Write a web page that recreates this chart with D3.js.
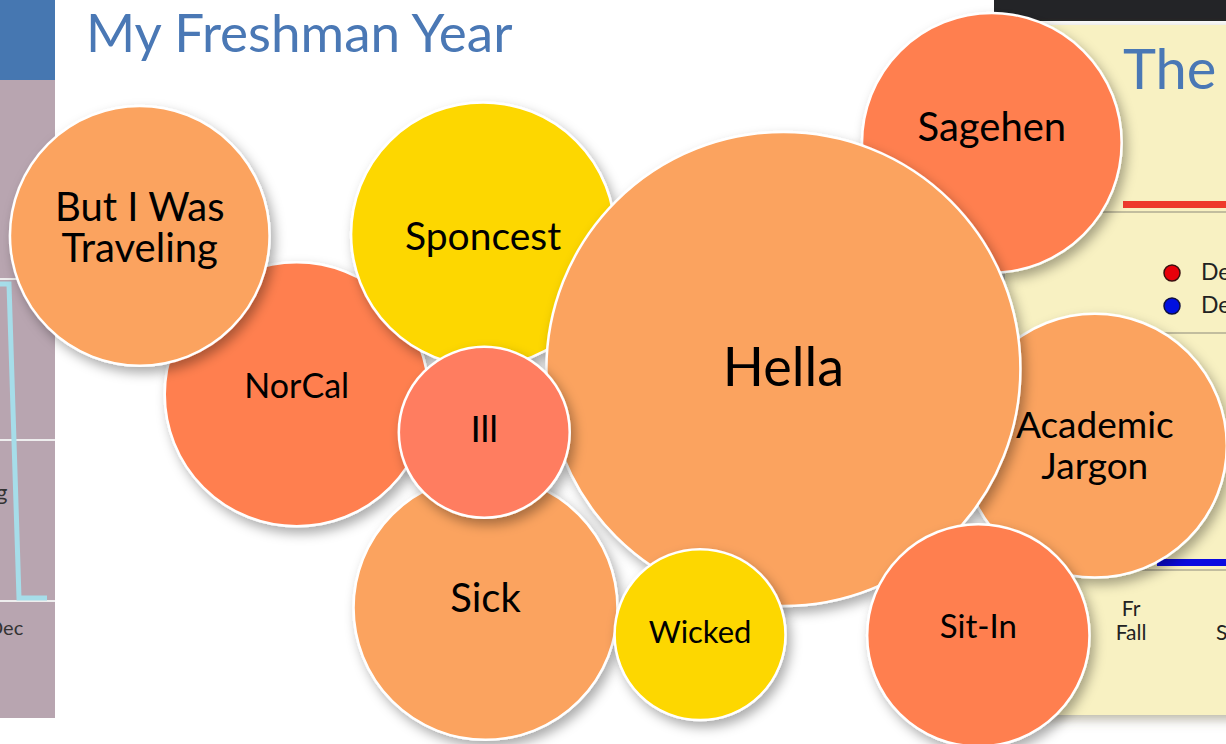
<!DOCTYPE html>
<html lang="en">
<head>
<meta charset="UTF-8">
<script src="https://d3js.org/d3.v7.min.js"></script>
<style>
  html, body { margin: 0; padding: 0; background: #ffffff; overflow: hidden; }
  svg { display: block; }
  .label { font-family: Lato, "Noto Sans", sans-serif; fill: #000; }
</style>
</head>
<body>
<div id="chart"></div>
<script>
// words, in draw order (back to front)
const words = [["NorCal"], ["Sagehen"], ["Academic", "Jargon"], ["Sponcest"], ["Hella"],
               ["Sick"], ["But I Was", "Traveling"], ["Ill"], ["Wicked"], ["Sit-In"]];
const counts = [31, 30, 31, 31, 100, 31, 30, 13, 13, 22];
const group = ["b", "b", "a", "d", "a", "a", "a", "c", "d", "b"];
// layout position of each bubble, in percent of the slide
const posX = [24.2, 80.9, 89.3, 39.4, 63.9, 39.6, 11.4, 39.5, 57.1, 79.8];
const posY = [53.0, 19.2, 59.9, 31.5, 49.6, 81.7, 31.7, 58.1, 85.3, 85.4];

// label styling
const fontSize = [34, 40, 37, 39, 54, 40, 40, 37, 31, 33];
const labelShift = [-8, -16, 0, 2, -2, -10, -8, -3, -2, -9];
const lineGap = 41;

const width = 1226, height = 744;

const svg = d3.select("#chart").append("svg")
  .attr("width", width)
  .attr("height", height);

const defs = svg.append("defs");
const shadow = defs.append("filter").attr("id", "shadow")
  .attr("x", "-20%").attr("y", "-20%").attr("width", "150%").attr("height", "150%");
shadow.append("feDropShadow")
  .attr("dx", 4).attr("dy", 6).attr("stdDeviation", 6)
  .attr("flood-color", "#000").attr("flood-opacity", 0.33);

const panelShadow = defs.append("filter").attr("id", "panelShadow")
  .attr("x", "-20%").attr("y", "-10%").attr("width", "140%").attr("height", "120%");
panelShadow.append("feDropShadow")
  .attr("dx", -4).attr("dy", 4).attr("stdDeviation", 6)
  .attr("flood-color", "#6b6440").attr("flood-opacity", 0.5);

// --- neighbouring slides peeking in (background) ---
const left = svg.append("g");
left.append("rect").attr("x", 0).attr("y", 0).attr("width", 55).attr("height", 80).attr("fill", "#4677b1");
left.append("rect").attr("x", 0).attr("y", 80).attr("width", 55).attr("height", 638).attr("fill", "#b8a5b0");
[279, 440, 601].forEach(y => left.append("line")
  .attr("x1", 0).attr("x2", 55).attr("y1", y).attr("y2", y)
  .attr("stroke", "#eee").attr("stroke-width", 2));
left.append("path")
  .attr("d", "M0,284 L9,284 L19,598 L47,598")
  .attr("fill", "none").attr("stroke", "#a6dde9").attr("stroke-width", 5);
left.append("text").attr("x", -4).attr("y", 500).attr("font-size", 22)
  .attr("font-family", "Lato, sans-serif").attr("fill", "#333").text("g");
left.append("text").attr("x", -12).attr("y", 635).attr("font-size", 20)
  .attr("font-family", "Lato, sans-serif").attr("fill", "#333").text("Dec");

const right = svg.append("g");
right.append("rect").attr("x", 994).attr("y", 0).attr("width", 232).attr("height", 21).attr("fill", "#232427");
right.append("rect").attr("x", 1005).attr("y", 25).attr("width", 250).attr("height", 690)
  .attr("fill", "#f8f1c2").attr("filter", "url(#panelShadow)");
right.append("text").attr("x", 1123).attr("y", 89).attr("font-size", 56)
  .attr("font-family", "Lato, sans-serif").attr("fill", "#4a78b5").text("The I");
right.append("rect").attr("x", 1123).attr("y", 201).attr("width", 110).attr("height", 7).attr("fill", "#ee3a2c");
right.append("line").attr("x1", 1100).attr("x2", 1226).attr("y1", 212).attr("y2", 212)
  .attr("stroke", "#c2bd9e").attr("stroke-width", 2);
right.append("circle").attr("cx", 1172).attr("cy", 273).attr("r", 8)
  .attr("fill", "#e8000a").attr("stroke", "#3a1010").attr("stroke-width", 1.5);
right.append("circle").attr("cx", 1172).attr("cy", 306).attr("r", 8)
  .attr("fill", "#0010e0").attr("stroke", "#101040").attr("stroke-width", 1.5);
[280, 313].forEach(y => right.append("text").attr("x", 1201).attr("y", y).attr("font-size", 23)
  .attr("font-family", "Lato, sans-serif").attr("fill", "#222").text("De"));
right.append("line").attr("x1", 1140).attr("x2", 1226).attr("y1", 333).attr("y2", 333)
  .attr("stroke", "#c2bd9e").attr("stroke-width", 2);
right.append("rect").attr("x", 1157).attr("y", 559).attr("width", 80).attr("height", 7).attr("fill", "#0a0ae0");
right.append("line").attr("x1", 1100).attr("x2", 1226).attr("y1", 570).attr("y2", 570)
  .attr("stroke", "#c2bd9e").attr("stroke-width", 2);
[["Fr", 616], ["Fall", 640]].forEach(d => right.append("text")
  .attr("x", 1131).attr("y", d[1]).attr("text-anchor", "middle").attr("font-size", 21)
  .attr("font-family", "Lato, sans-serif").attr("fill", "#222").text(d[0]));
right.append("text").attr("x", 1216).attr("y", 640).attr("font-size", 21)
  .attr("font-family", "Lato, sans-serif").attr("fill", "#222").text("S");

// --- title ---
svg.append("text")
  .attr("x", 86).attr("y", 52)
  .attr("font-family", "Lato, sans-serif")
  .attr("font-size", 53)
  .attr("fill", "#4a78b5")
  .text("My Freshman Year");

// --- bubbles ---
const x = d3.scaleLinear().domain([0, 100]).range([0, width]);
const y = d3.scaleLinear().domain([0, 100]).range([0, height]);
const r = d3.scaleSqrt().domain([0, 100]).range([0, 237]);
const color = d3.scaleOrdinal()
  .domain(["a", "b", "c", "d"])
  .range(["#fba35e", "#ff7f50", "#ff7d61", "#fdd700"]);

const data = words.map((w, i) => ({
  lines: w, count: counts[i], group: group[i], px: posX[i], py: posY[i],
  fs: fontSize[i], shift: labelShift[i]
}));

const node = svg.append("g").selectAll("g")
  .data(data)
  .join("g")
  .attr("transform", d => `translate(${x(d.px)},${y(d.py)})`);

node.append("circle")
  .attr("r", d => r(d.count))
  .attr("fill", d => color(d.group))
  .attr("stroke", "#fff")
  .attr("stroke-width", 2.5)
  .attr("filter", "url(#shadow)");

node.append("text")
  .attr("class", "label")
  .attr("text-anchor", "middle")
  .attr("font-size", d => d.fs)
  .selectAll("tspan")
  .data(d => d.lines.map((t, j) => ({ t, j, n: d.lines.length, shift: d.shift })))
  .join("tspan")
  .attr("x", 0)
  .attr("y", d => d.shift + (d.j - (d.n - 1) / 2) * lineGap)
  .attr("dy", "0.35em")
  .text(d => d.t);
</script>
</body>
</html>
